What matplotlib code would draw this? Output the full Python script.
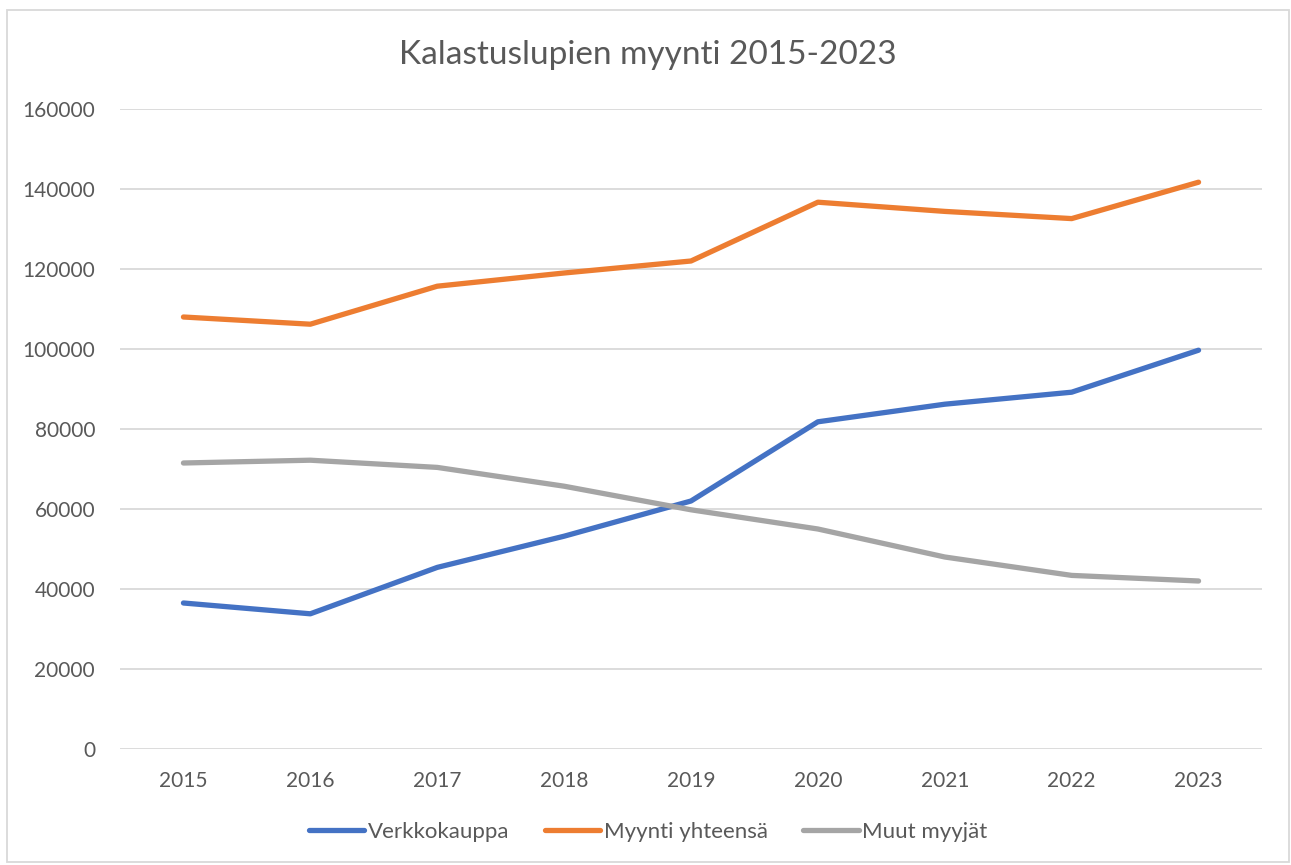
import matplotlib.pyplot as plt
from matplotlib.patches import Rectangle

years = ["2015", "2016", "2017", "2018", "2019", "2020", "2021", "2022", "2023"]
verkkokauppa = [36500, 33800, 45400, 53200, 62000, 81800, 86200, 89200, 99700]
myynti_yhteensa = [108000, 106200, 115700, 119000, 122000, 136700, 134400, 132600, 141700]
muut_myyjat = [71500, 72200, 70400, 65700, 59800, 55000, 48000, 43400, 42000]

plt.rcParams['font.family'] = ['Lato', 'DejaVu Sans']
text_color = "#595959"

fig = plt.figure(figsize=(12.91, 8.65), dpi=100)
ax = fig.add_axes([120 / 1291, (865 - 749) / 865, 1142 / 1291, 640 / 865])

x = range(len(years))
ax.plot(x, verkkokauppa, color="#4472C4", lw=3.8, solid_capstyle="round", solid_joinstyle="round", label="Verkkokauppa")
ax.plot(x, myynti_yhteensa, color="#ED7D31", lw=3.8, solid_capstyle="round", solid_joinstyle="round", label="Myynti yhteensä")
ax.plot(x, muut_myyjat, color="#A5A5A5", lw=3.8, solid_capstyle="round", solid_joinstyle="round", label="Muut myyjät")

ax.set_xlim(-0.5, len(years) - 0.5)
ax.set_ylim(0, 160000)
ax.set_yticks(range(0, 160001, 20000))
ax.set_xticks(list(x))
ax.set_xticklabels(years)
ax.grid(axis="y", color="#d9d9d9", lw=1.3)
ax.set_axisbelow(True)
for s in ax.spines.values():
    s.set_visible(False)
ax.tick_params(length=0, labelsize=15, colors=text_color)
ax.tick_params(axis="y", pad=18)
ax.tick_params(axis="x", pad=16)

fig.text(0.502, 1 - 55 / 865, "Kalastuslupien myynti 2015-2023", ha="center", va="center",
         fontsize=24, color=text_color)

ax.legend(loc="center", bbox_to_anchor=(0.502, 1 - 832 / 865), bbox_transform=fig.transFigure,
          ncol=3, frameon=False, fontsize=16, labelcolor=text_color, handlelength=2.5,
          handletextpad=0.15, columnspacing=1.6)

fig.patches.append(Rectangle((7 / 1291, 3 / 865), 1282 / 1291, 852 / 865, transform=fig.transFigure,
                             fill=False, edgecolor="#d9d9d9", lw=1.3))

plt.savefig("out.png", dpi=100)
